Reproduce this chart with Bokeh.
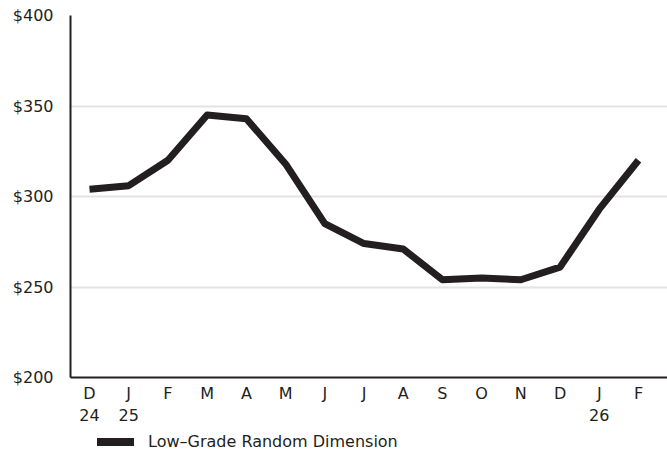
from bokeh.plotting import figure
from bokeh.models import FixedTicker, NumeralTickFormatter, Range1d, LinearAxis, Div
from bokeh.layouts import column
from bokeh.embed import file_html
from bokeh.resources import INLINE

months = ["D", "J", "F", "M", "A", "M", "J", "J", "A", "S", "O", "N", "D", "J", "F"]
years = ["24", "25", "", "", "", "", "", "", "", "", "", "", "", "26", ""]
prices = [304, 306, 320, 345, 343, 318, 285, 274, 271, 254, 255, 254, 261, 293, 320]
series_name = "Low–Grade Random Dimension"
y_ticks = [200, 250, 300, 350, 400]

xs = list(range(len(months)))
FONT = "DejaVu Sans"
TXT = "#231f20"

p = figure(frame_width=597, frame_height=362, output_backend="svg", toolbar_location=None,
           x_range=Range1d(-0.485, 14.74), y_range=Range1d(200, 400),
           min_border_left=70, min_border_right=0, min_border_top=15, min_border_bottom=0)
p.outline_line_color = None
p.background_fill_color = "white"

r = p.line(xs, prices, line_color=TXT, line_width=7, line_join="round")

year_axis = LinearAxis()
p.add_layout(year_axis, "below")

p.xaxis[0].ticker = FixedTicker(ticks=xs)
p.xaxis[0].major_label_overrides = {i: m for i, m in enumerate(months)}
year_axis.ticker = FixedTicker(ticks=xs)
year_axis.major_label_overrides = {i: y for i, y in enumerate(years)}
year_axis.axis_line_color = None
p.yaxis.ticker = FixedTicker(ticks=y_ticks)
p.yaxis.formatter = NumeralTickFormatter(format="$0")
for ax in (p.xaxis[0], year_axis, p.yaxis[0]):
    if ax is not year_axis:
        ax.axis_line_color = TXT
        ax.axis_line_width = 2
    ax.major_tick_line_color = None
    ax.minor_tick_line_color = None
    ax.major_label_text_font = FONT
    ax.major_label_text_font_size = "16px"
    ax.major_label_text_color = TXT
p.yaxis.major_label_standoff = 11
p.xaxis[0].major_label_standoff = 0
year_axis.major_label_standoff = -3
p.xgrid.grid_line_color = None
p.ygrid.grid_line_color = "#e3e3e3"
p.ygrid.grid_line_width = 2

legend_html = (
    '<div style="display:flex;align-items:center;height:20px;margin-top:9px;margin-left:97px;'
    'font-family:\'DejaVu Sans\';font-size:16px;color:%s;white-space:nowrap;">'
    '<span style="display:inline-block;width:37px;height:8px;background:%s;margin-right:14px;"></span>'
    '<span>%s</span></div>' % (TXT, TXT, series_name)
)
legend_div = Div(text=legend_html, width=667, height=30, margin=(0, 0, 0, 0))

layout = column(p, legend_div, spacing=0, margin=(0, 0, 0, 0))

open("out.html", "w").write(file_html(layout, INLINE))
